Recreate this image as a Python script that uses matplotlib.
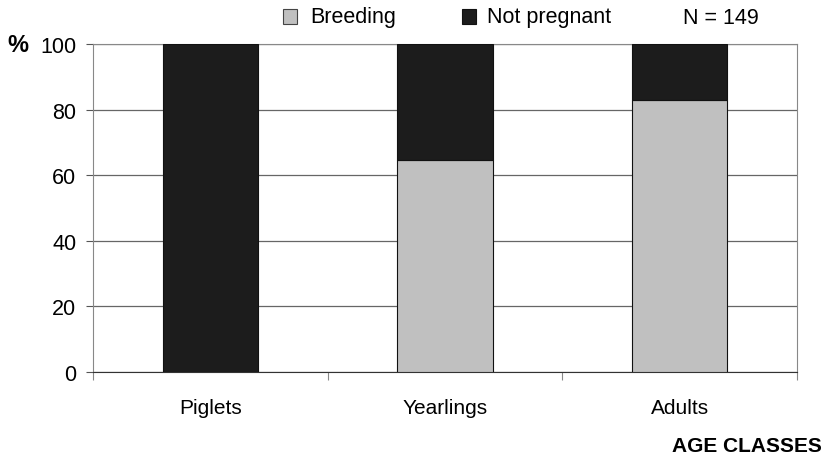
import matplotlib.pyplot as plt
import numpy as np

plt.rcParams['font.family'] = ['Liberation Sans', 'DejaVu Sans']

classes = ['Piglets', 'Yearlings', 'Adults']
breeding = [0.0, 64.6, 83.0]
not_pregnant = [100.0, 35.4, 17.0]

fig = plt.figure(figsize=(8.27, 4.60), dpi=100)
ax = fig.add_axes([93 / 827, 1 - 373 / 460, (797 - 93) / 827, (373 - 45) / 460])

x = np.arange(len(classes))
w = 0.405
ax.bar(x, breeding, w, color='#c0c0c0', edgecolor='#111111', linewidth=0.8, zorder=3)
ax.bar(x, not_pregnant, w, bottom=breeding, color='#1c1c1c', edgecolor='#111111',
       linewidth=0.8, zorder=3)

ax.set_xlim(-0.5, 2.5)
ax.set_ylim(0, 100)
ax.set_yticks(range(0, 101, 20))
ax.set_xticks([-0.5, 0.5, 1.5, 2.5])
ax.set_xticklabels([])
ax.set_xticks(x, minor=True)
ax.set_xticklabels(classes, minor=True)
ax.tick_params(axis='x', which='minor', length=0, pad=19, labelsize=15)
ax.tick_params(axis='x', which='major', length=6, color='#888888', direction='out')
ax.tick_params(axis='y', length=5, color='#555555', labelsize=15.5, pad=7)

ax.grid(axis='y', color='#666666', linewidth=0.9, zorder=0)
for s in ['left', 'right', 'top']:
    ax.spines[s].set_color('#888888')
    ax.spines[s].set_linewidth(0.8)
ax.spines['bottom'].set_color('#333333')

fig.text(7 / 827, 1 - 46 / 460, '%', fontsize=17, fontweight='bold', va='center')
fig.text(822 / 827, 1 - 447 / 460, 'AGE CLASSES', fontsize=15, fontweight='bold',
         ha='right', va='center')

# legend row
ly = 1 - 18 / 460
fig.patches.append(plt.Rectangle((283 / 827, 1 - 25 / 460), 14 / 827, 15 / 460,
                                 transform=fig.transFigure, facecolor='#c0c0c0',
                                 edgecolor='#444444', linewidth=0.8))
fig.text(310 / 827, ly, 'Breeding', fontsize=15.5, va='center')
fig.patches.append(plt.Rectangle((462 / 827, 1 - 25 / 460), 14 / 827, 15 / 460,
                                 transform=fig.transFigure, facecolor='#1c1c1c',
                                 edgecolor='#111111', linewidth=0.8))
fig.text(487 / 827, ly, 'Not pregnant', fontsize=15.5, va='center')
fig.text(683 / 827, ly, 'N = 149', fontsize=15.5, va='center')

fig.savefig('out.png', dpi=100)
